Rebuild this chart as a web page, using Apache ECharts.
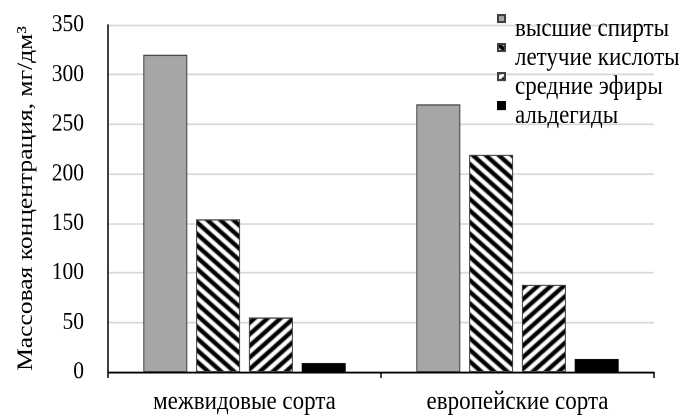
<!DOCTYPE html>
<html>
<head>
<meta charset="utf-8">
<script src="https://cdn.jsdelivr.net/npm/echarts@6/dist/echarts.min.js"></script>
<style>
html,body{margin:0;padding:0;background:#fff;width:686px;height:419px}
#c{width:686px;height:361px;transform:scaleY(1.1607);transform-origin:0 0}
</style>
</head>
<body>
<div id="c"></div>
<script>
var categories = ['межвидовые сорта', 'европейские сорта'];
var seriesNames = ['высшие спирты', 'летучие кислоты', 'средние эфиры', 'альдегиды'];
var higherAlcohols = [320, 270];
var volatileAcids = [154, 219];
var esters = [55, 88];
var aldehydes = [9, 13];
var yTicks = [0, 50, 100, 150, 200, 250, 300, 350];
var yTitle = 'Массовая концентрация, мг/дм³';

function hatch(dir) {
  var w = 13, h = 10, c = document.createElement('canvas');
  c.width = w; c.height = h;
  var g = c.getContext('2d');
  g.fillStyle = '#fff'; g.fillRect(0, 0, w, h);
  g.strokeStyle = '#000'; g.lineWidth = 4; g.lineCap = 'butt';
  for (var k = -1; k <= 2; k++) {
    g.beginPath();
    if (dir === 'back') { g.moveTo(k * w - w, -h); g.lineTo(k * w + 2 * w, 2 * h); }
    else { g.moveTo(k * w + w, -h); g.lineTo(k * w - 2 * w, 2 * h); }
    g.stroke();
  }
  return { image: c, repeat: 'repeat' };
}

var font = "'Liberation Serif','Times New Roman',serif";
var chart = echarts.init(document.getElementById('c'), null, { devicePixelRatio: 2 });
var base = { type: 'bar', barWidth: 44, barGap: '20%', animation: false };
chart.setOption({
  animation: false,
  textStyle: { fontFamily: font },
  grid: { left: 108, right: 32, top: 21.5, bottom: 40.5 },
  legend: {
    orient: 'vertical', left: 497, top: -4.5, padding: 0,
    icon: 'rect', itemWidth: 7, itemHeight: 6, itemGap: -16,
    data: seriesNames,
    formatter: function (n) { return '\n' + n; },
    textStyle: { fontFamily: font, fontSize: 23, lineHeight: 18, color: '#000', padding: [0, 0, 0, 5] }
  },
  xAxis: {
    type: 'category', data: categories,
    axisLine: { lineStyle: { color: '#000', width: 1.5 } },
    axisTick: { show: true, length: 5, lineStyle: { color: '#000', width: 1.5 } },
    axisLabel: { fontFamily: font, fontSize: 23, color: '#000', margin: 14.5 }
  },
  yAxis: {
    type: 'value', min: yTicks[0], max: yTicks[yTicks.length - 1], interval: 50,
    name: yTitle, nameLocation: 'middle', nameGap: 71, nameRotate: 90,
    nameTextStyle: { fontFamily: font, fontSize: 22, color: '#000' },
    axisLine: { show: true, lineStyle: { color: '#000', width: 1.5 } },
    axisTick: { show: false },
    splitLine: { lineStyle: { color: '#d9d9d9', width: 1.6 } },
    axisLabel: { fontFamily: font, fontSize: 21.5, color: '#000', margin: 24 }
  },
  series: [
    Object.assign({}, base, { name: seriesNames[0], data: higherAlcohols,
      itemStyle: { color: '#a6a6a6', borderColor: '#404040', borderWidth: 1 } }),
    Object.assign({}, base, { name: seriesNames[1], data: volatileAcids,
      itemStyle: { color: hatch('back'), borderColor: '#404040', borderWidth: 1 } }),
    Object.assign({}, base, { name: seriesNames[2], data: esters,
      itemStyle: { color: hatch('fwd'), borderColor: '#404040', borderWidth: 1 } }),
    Object.assign({}, base, { name: seriesNames[3], data: aldehydes,
      itemStyle: { color: '#000', borderColor: '#000', borderWidth: 1 } })
  ]
});
</script>
</body>
</html>
